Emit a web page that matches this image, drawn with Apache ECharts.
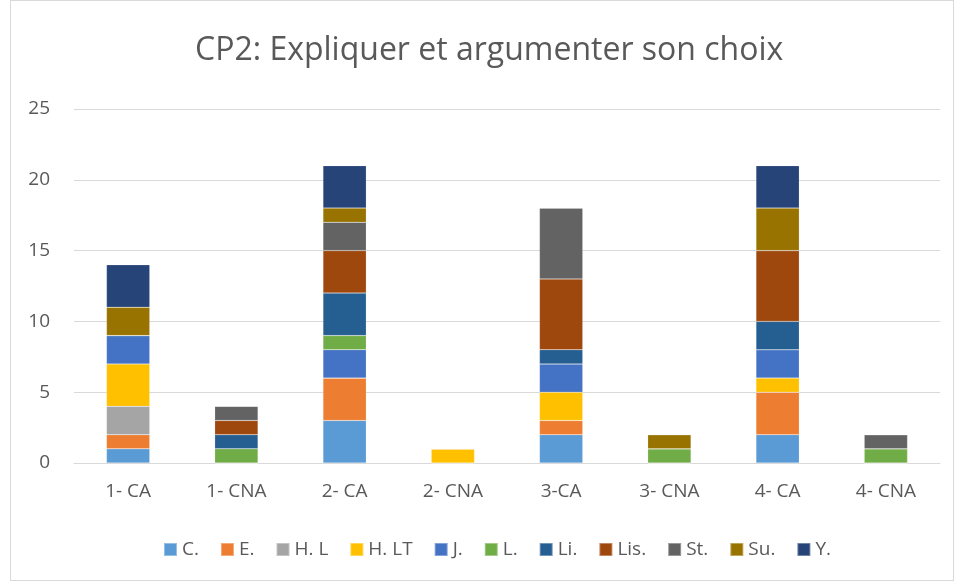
<!DOCTYPE html>
<html><head><meta charset="utf-8">
<script src="https://cdn.jsdelivr.net/npm/echarts@6/dist/echarts.min.js"></script>
<style>
html,body{margin:0;padding:0;background:#fff;}
#c{position:absolute;left:0;top:0;width:957px;height:583px;}
#b{position:absolute;left:10px;top:0px;width:944px;height:581px;border:1px solid #d9d9d9;box-sizing:border-box;pointer-events:none;}
</style></head><body>
<div id="c"></div><div id="b"></div>
<script>
const categories = ['1- CA','1- CNA','2- CA','2- CNA','3-CA','3- CNA','4- CA','4- CNA'];
const seriesNames = ['C.','E.','H. L','H. LT','J.','L.','Li.','Lis.','St.','Su.','Y.'];
const C_   = [1,0,3,0,2,0,2,0];
const E_   = [1,0,3,0,1,0,3,0];
const HL   = [2,0,0,0,0,0,0,0];
const HLT  = [3,0,0,1,2,0,1,0];
const J_   = [2,0,2,0,2,0,2,0];
const L_   = [0,1,1,0,0,1,0,1];
const Li   = [0,1,3,0,1,0,2,0];
const Lis  = [0,1,3,0,5,0,5,0];
const St   = [0,1,2,0,5,0,0,1];
const Su   = [2,0,1,0,0,1,3,0];
const Y_   = [3,0,3,0,0,0,3,0];
const values = [C_,E_,HL,HLT,J_,L_,Li,Lis,St,Su,Y_];
const colors = ['#5B9BD5','#ED7D31','#A5A5A5','#FFC000','#4472C4','#70AD47','#255E91','#9E480E','#636363','#997300','#264478'];
const yTicks = [0,5,10,15,20,25];

const font = 'Open Sans';
const chart = echarts.init(document.getElementById('c'));
chart.setOption({
  animation:false,
  title:{text:'CP2: Expliquer et argumenter son choix',left:190,top:30,
    textStyle:{fontFamily:font,fontSize:32,fontWeight:'normal',color:'#595959'}},
  grid:{left:74,right:17,top:109,bottom:120,containLabel:false},
  legend:{top:535,left:158,itemWidth:13,itemHeight:13,itemGap:21,icon:'rect',
    textStyle:{fontFamily:font,fontSize:19,color:'#595959',padding:[0,0,0,0]},
    data:seriesNames},
  xAxis:{type:'category',data:categories,
    axisLine:{lineStyle:{color:'#d9d9d9',width:1}},axisTick:{show:false},
    axisLabel:{fontFamily:font,fontSize:19,color:'#595959',margin:19}},
  yAxis:{type:'value',min:yTicks[0],max:yTicks[yTicks.length-1],interval:5,
    axisLine:{show:false},axisTick:{show:false},
    splitLine:{lineStyle:{color:'#d9d9d9',width:1}},
    axisLabel:{fontFamily:font,fontSize:19,color:'#595959',margin:24}},
  series: seriesNames.map((n,i)=>({
    name:n,type:'bar',stack:'s',barWidth:'40%',data:values[i],
    itemStyle:{color:colors[i],borderColor:'rgba(255,255,255,0.35)',borderWidth:0.5}
  }))
});
</script></body></html>
